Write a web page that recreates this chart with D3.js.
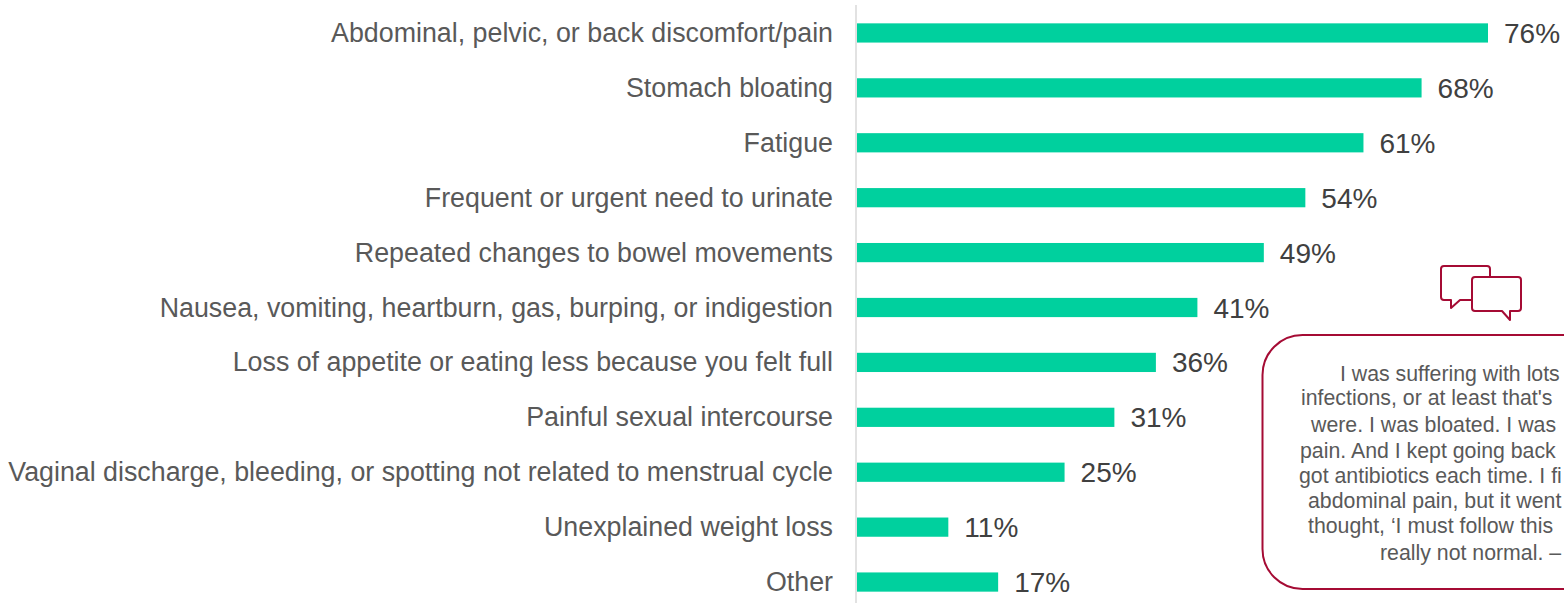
<!DOCTYPE html>
<html>
<head>
<meta charset="utf-8">
<script src="https://cdn.jsdelivr.net/npm/d3@7"></script>
<style>
  body { margin: 0; background: #fff; overflow: hidden; }
  text { font-family: "Liberation Sans", Arial, sans-serif; }
</style>
</head>
<body>
<div id="my_dataviz"></div>
<script>
var categories = [
    "Abdominal, pelvic, or back discomfort/pain",
    "Stomach bloating",
    "Fatigue",
    "Frequent or urgent need to urinate",
    "Repeated changes to bowel movements",
    "Nausea, vomiting, heartburn, gas, burping, or indigestion",
    "Loss of appetite or eating less because you felt full",
    "Painful sexual intercourse",
    "Vaginal discharge, bleeding, or spotting not related to menstrual cycle",
    "Unexplained weight loss",
    "Other"
];
var values = [76, 68, 61, 54, 49, 41, 36, 31, 25, 11, 17];

// the quote runs off the right edge in the source, only the visible part is kept
var quoteLines = [
    "I was suffering with lots",
    "infections, or at least that's",
    "were. I was bloated. I was",
    "pain. And I kept going back",
    "got antibiotics each time. I fi",
    "abdominal pain, but it went",
    "thought, \u2018I must follow this",
    "really not normal. \u2013"
];
var quoteX = [1340, 1301, 1311, 1300, 1299, 1308, 1308, 1380];
var quoteY = [381, 405, 432, 458, 483, 508, 533, 560];

var width = 1564, height = 603;
var green = "#00D09E", crimson = "#A50B34";

var svg = d3.select("#my_dataviz")
    .append("svg")
    .attr("width", width)
    .attr("height", height)
    .style("display", "block");

var x = d3.scaleLinear()
    .domain([0, 76])
    .range([857, 1488]);

var y = d3.scaleBand()
    .domain(categories)
    .range([5.5, 609.5])
    .paddingInner(0.65)
    .paddingOuter(0.325);

// vertical axis line
svg.append("line")
    .attr("x1", 856).attr("x2", 856)
    .attr("y1", 5).attr("y2", 603)
    .attr("stroke", "#d9d9d9")
    .attr("stroke-width", 1.5);

svg.append("g")
    .selectAll("rect")
    .data(values)
    .enter()
    .append("rect")
    .attr("x", x(0))
    .attr("y", function(d, i) { return y(categories[i]); })
    .attr("width", function(d) { return x(d) - x(0); })
    .attr("height", y.bandwidth())
    .attr("fill", green);

svg.append("g")
    .selectAll("text")
    .data(categories)
    .enter()
    .append("text")
    .attr("x", 833)
    .attr("y", function(d) { return y(d) + y.bandwidth() / 2 + 9; })
    .attr("text-anchor", "end")
    .attr("font-size", 26.8)
    .attr("fill", "#595959")
    .text(function(d) { return d; });

svg.append("g")
    .selectAll("text")
    .data(values)
    .enter()
    .append("text")
    .attr("x", function(d) { return x(d) + 16; })
    .attr("y", function(d, i) { return y(categories[i]) + y.bandwidth() / 2 + 10; })
    .attr("font-size", 28)
    .attr("fill", "#404040")
    .text(function(d) { return d + "%"; });

// quote box
svg.append("rect")
    .attr("x", 1262.5).attr("y", 335)
    .attr("width", 400).attr("height", 254)
    .attr("rx", 40)
    .attr("fill", "none")
    .attr("stroke", crimson)
    .attr("stroke-width", 2);

svg.append("g")
    .selectAll("text")
    .data(quoteLines)
    .enter()
    .append("text")
    .attr("x", function(d, i) { return quoteX[i]; })
    .attr("y", function(d, i) { return quoteY[i]; })
    .attr("font-size", 21.3)
    .attr("fill", "#595959")
    .text(function(d) { return d; });

// speech bubble icon
var icon = svg.append("g")
    .attr("fill", "none")
    .attr("stroke", crimson)
    .attr("stroke-width", 2)
    .attr("stroke-linejoin", "round");
icon.append("path")
    .attr("d", "M1490 277V269Q1490 266 1487 266H1444Q1441 266 1441 269V297Q1441 300 1444 300H1451V308L1460 300H1472");
icon.append("path")
    .attr("d", "M1475 277H1518Q1521 277 1521 280V308Q1521 311 1518 311H1510V320L1502 311H1475Q1472 311 1472 308V280Q1472 277 1475 277Z");
</script>
</body>
</html>
